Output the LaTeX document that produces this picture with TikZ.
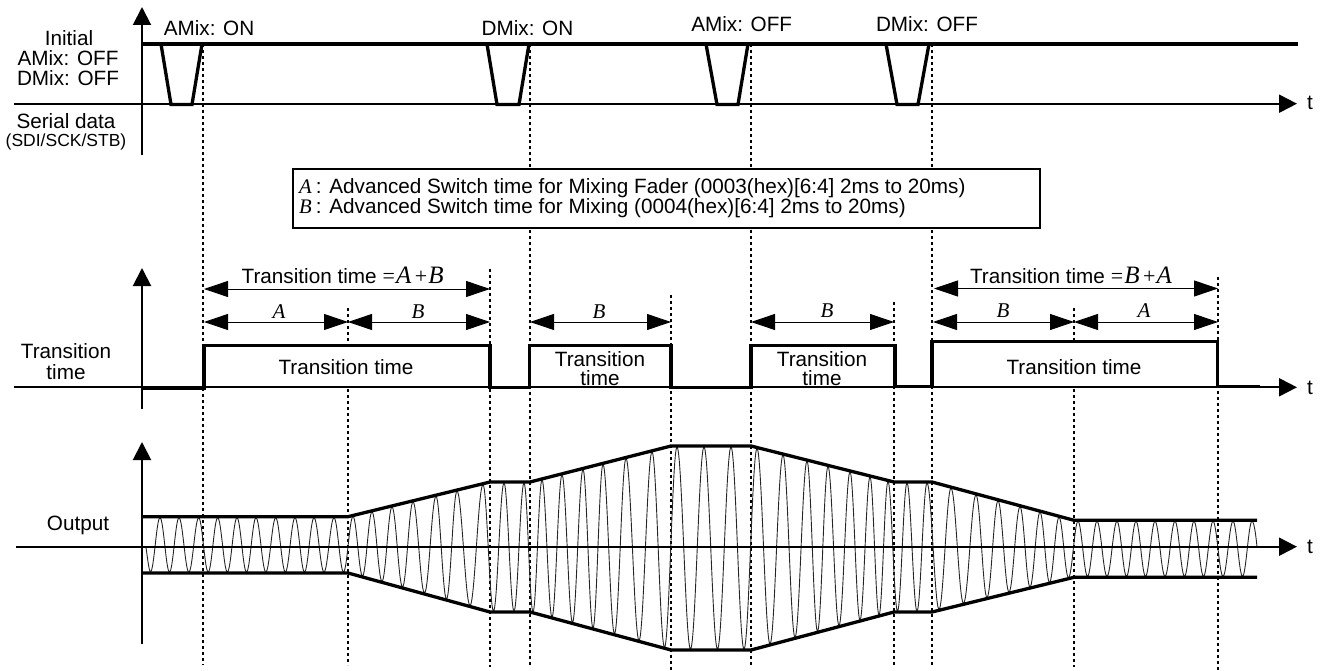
\documentclass[tikz,border=0pt]{standalone}
\usepackage{fontspec}
\setmainfont{Liberation Sans}
\newfontfamily\tmsfont{Liberation Serif}
\usetikzlibrary{arrows.meta}
\newcommand{\ltr}[1]{{\tmsfont\itshape #1}}
\newcommand{\opr}[1]{{\tmsfont\fontsize{22}{22}\selectfont #1}}
\newcommand{\bigltr}[1]{{\tmsfont\itshape\fontsize{25}{25}\selectfont #1}}
\newcommand{\sumtext}[2]{Transition time\hspace{6pt}\opr{=}\hspace{1pt}\bigltr{#1}\hspace{3.5pt}\opr{+}\hspace{1pt}\bigltr{#2}}
\tikzset{
  axisln/.style={line width=2pt},
  axisarrow/.style={line width=2pt,-{Triangle[length=18pt,width=18pt]}},
  sig/.style={line width=3.3pt,miter limit=10},
  guide/.style={line width=1.6pt,dash pattern=on 3.4pt off 2.6pt},
  dim/.style={line width=0.9pt,{Triangle[length=24pt,width=16pt]}-{Triangle[length=24pt,width=16pt]}},
  wave/.style={line width=0.9pt,black!85},
  lbl/.style={inner sep=0pt,outer sep=0pt,anchor=base,font=\fontsize{20.7}{20.7}\selectfont},
  small/.style={lbl,font=\fontsize{17.5}{17.5}\selectfont},
  letter/.style={lbl,font=\fontsize{21}{21}\selectfont\tmsfont\itshape},
}
\begin{document}
\begin{tikzpicture}[x=1pt,y=-1pt,
  declare function={
   etop(\x)=(\x<348)?516.7:((\x<490)?516.7+(\x-348)/142*(-34.7):((\x<530)?482:((\x<671)?482+(\x-530)/141*(-36):((\x<751)?446:((\x<894)?446+(\x-751)/143*36:((\x<932)?482:((\x<1074)?482+(\x-932)/142*38.3:520.3)))))));
   ebot(\x)=(\x<348)?573:((\x<490)?573+(\x-348)/142*39:((\x<530)?612:((\x<671)?612+(\x-530)/141*38:((\x<751)?650:((\x<894)?650-(\x-751)/143*38:((\x<932)?612:((\x<1074)?612-(\x-932)/142*34.7:577.3)))))));
  }]
\useasboundingbox (0,0) rectangle (1322,671);

% vertical guides
\foreach \gx/\ga/\gb in {203/44/345,203/388/665,348/308/343,348/389/665,490/269/667,530/44/667,
  671/295/670,751/44/667,894/302/665,932/44/667,1074/308/343,1074/389/667,1218/277/670}
  {\draw[guide] (\gx,\ga) -- (\gx,\gb);}

% --- serial data row
\draw[axisarrow] (142,155) -- (142,7);
\draw[axisarrow] (14,103.7) -- (1297,103.7);
\draw[line width=3.2pt] (142,44) -- (1298,44);
\foreach \pa/\pb/\pc/\pd in {161/171/192/202,487/497/519/529,706/717/738/748,886/897/918/929}
  {\draw[sig] (\pa,44) -- (\pb,104.5) -- (\pc,104.5) -- (\pd,44);}
\node[lbl] (amixon) at (209,35.7) {AMix: ON};
\node[lbl] (dmixon) at (527.5,35.7) {DMix: ON};
\node[lbl] (amixoff) at (741.7,32) {AMix: OFF};
\node[lbl] (dmixoff) at (927,32) {DMix: OFF};
\node[lbl] (init1) at (69,45.7) {Initial};
\node[lbl] (init2) at (68,65.7) {AMix: OFF};
\node[lbl] (init3) at (68,86) {DMix: OFF};
\node[lbl] (serial) at (66,129) {Serial data};
\node[small] (sdi) at (66,146.5) {(SDI/SCK/STB)};
\node[lbl] (t1) at (1310,110) {t};

% --- legend box
\node[draw,line width=2pt,fill=white,inner sep=0pt,minimum width=747.5pt,minimum height=58.7pt] (legend) at (666.25,198.35) {};
\node[lbl,anchor=base west] (legA) at (299,193.6) {\ltr{A}\hspace{4.2pt}:\hspace{2pt} Advanced Switch time for Mixing Fader (0003(hex)[6:4] 2ms to 20ms)};
\node[lbl,anchor=base west] (legB) at (299,213.6) {\ltr{B}\hspace{4.2pt}:\hspace{2pt} Advanced Switch time for Mixing (0004(hex)[6:4] 2ms to 20ms)};

% --- transition row
\draw[axisarrow] (142,409) -- (142,268);
\draw[axisarrow] (14,387.3) -- (1297,387.3);
\draw[sig] (142,388) -- (204,388) -- (204,345.7) -- (490,345.7) -- (490,387.7) -- (529.3,387.7)
  -- (529.3,345.7) -- (671,345.7) -- (671,387.7) -- (751,387.7) -- (751,345.7) -- (895,345.7)
  -- (895,386.7) -- (932,386.7) -- (932,341.7) -- (1217.7,341.7) -- (1217.7,386.7) -- (1260,386.7);

\foreach \cn/\cx in {a/204,b/348,c/490,d/530,e/671,f/751,g/894,h/933,i/1074,j/1218}{
  \coordinate (\cn hi) at (\cx,322);
}
\coordinate (abig) at (204,289); \coordinate (cbig) at (490,289);
\coordinate (hbig) at (934,288.5); \coordinate (jbig) at (1218,288.5);
\draw[dim] (abig) -- (cbig);
\draw[dim] (hbig) -- (jbig);
\draw[dim] (ahi) -- (bhi);
\draw[dim] (bhi) -- (chi);
\draw[dim] (dhi) -- (ehi);
\draw[dim] (fhi) -- (ghi);
\draw[dim] (hhi) -- (ihi);
\draw[dim] (ihi) -- (jhi);

\node[lbl,anchor=base west] (tot1) at (241.7,283) {\sumtext{A}{B}};
\node[lbl,anchor=base west] (tot2) at (970,283) {\sumtext{B}{A}};
\node[letter] (lA1) at (279,318) {A};
\node[letter] (lB1) at (418,318) {B};
\node[letter] (lB2) at (599,318) {B};
\node[letter] (lB3) at (827,317) {B};
\node[letter] (lB4) at (1003,317) {B};
\node[letter] (lA2) at (1144,317) {A};
\node[lbl] (tt1) at (346,374) {Transition time};
\node[lbl] (tt2a) at (600,366) {Transition};
\node[lbl] (tt2b) at (600,385) {time};
\node[lbl] (tt3a) at (822,366) {Transition};
\node[lbl] (tt3b) at (822,385) {time};
\node[lbl] (tt4) at (1074,374) {Transition time};
\node[lbl] (trl1) at (66,358) {Transition};
\node[lbl] (trl2) at (66,379) {time};
\node[lbl] (t2) at (1310,394) {t};

% --- output row
\foreach[remember=\q as \p (initially 160)] \q in {179,198.7,217.7,237,256,275.7,295,314,334,353,372,392,413,436,457,483,504,524,542,562,583,603,626,652,677,704,731,757,783,807,828,850,870,888,907,927,951,976,998,1020,1040,1059,1078,1097,1117,1136,1155,1175,1194,1213,1233,1252}{
  \pgfmathsetmacro\tr{(\p+\q)/2}
  \pgfmathsetmacro\h{0.3642*(\q-\p)/2}
  \pgfmathsetmacro\ya{etop(\p)+1}
  \pgfmathsetmacro\yb{ebot(\tr)-1}
  \pgfmathsetmacro\yc{etop(\q)+1}
  \pgfmathsetmacro\pone{\p+\h}\pgfmathsetmacro\ptwo{\tr-\h}
  \pgfmathsetmacro\pthree{\tr+\h}\pgfmathsetmacro\pfour{\q-\h}
  \draw[wave] (\p,\ya) .. controls (\pone,\ya) and (\ptwo,\yb) .. (\tr,\yb)
     .. controls (\pthree,\yb) and (\pfour,\yc) .. (\q,\yc);
}
\draw[wave] (145.8,546.7) .. controls (147.4,555.5) and (148.8,571.7) .. (150.5,571.7)
   .. controls (154,571.7) and (156.5,517.7) .. (160,517.7);
\draw[wave] (1252,521.3) .. controls (1254,521.3) and (1255.7,534) .. (1257,546.7);

\draw[axisarrow] (142,644) -- (142,442);
\draw[axisarrow] (16,546.7) -- (1297,546.7);
\draw[sig] (142,516.7) -- (348,516.7) -- (490,482) -- (530,482) -- (671,446) -- (751,446) -- (894,482) -- (932,482) -- (1074,520.3) -- (1257,520.3);
\draw[sig] (142,573) -- (348,573) -- (490,612) -- (530,612) -- (671,650) -- (751,650) -- (894,612) -- (932,612) -- (1074,577.3) -- (1257,577.3);
\node[lbl] (out) at (78,530) {Output};
\node[lbl] (t3) at (1310,553) {t};
\end{tikzpicture}
\end{document}
